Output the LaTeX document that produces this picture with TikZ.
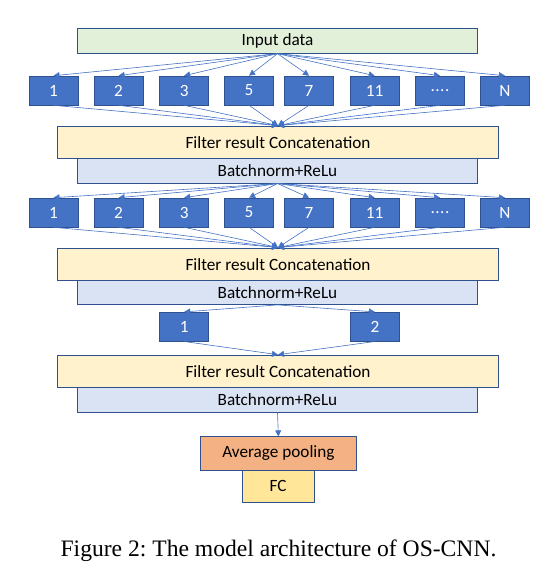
\documentclass[tikz,border=0pt]{standalone}
\usepackage{fontspec}
\setmainfont{Carlito}
\newfontfamily\capfont{Liberation Serif}
\usepackage{xcolor}
\usepackage{tikz}
\usetikzlibrary{arrows.meta}
\frenchspacing

\definecolor{kernblue}{HTML}{4472C4}
\definecolor{kernedge}{HTML}{2F528F}
\definecolor{inpgreen}{HTML}{E2F0D9}
\definecolor{catyellow}{HTML}{FFF2CC}
\definecolor{bnblue}{HTML}{DAE3F3}
\definecolor{poolorange}{HTML}{F4B183}
\definecolor{fcyellow}{HTML}{FFE699}

\begin{document}
\begin{tikzpicture}
  [
    x=1pt, y=-1pt,
    font=\fontsize{17.2}{20}\selectfont,
    layer/.style={
       draw=kernedge,
       line width=0.8pt,
       inner sep=0pt,
       minimum height=24.5pt
    },
    kern/.style={
       layer,
       fill=kernblue,
       text=white,
       minimum width=49pt,
       minimum height=28.8pt
    },
    concat/.style={
       layer,
       fill=catyellow,
       minimum width=440.3pt,
       minimum height=32.6pt
    },
    bn/.style={
       layer,
       fill=bnblue,
       minimum width=400.7pt
    },
    ld/.style={
       draw=kernblue,
       line width=0.6pt,
       -{Triangle[length=6pt,width=6pt]}
    }
  ]
  \useasboundingbox (0,0) rectangle (550,563);

  % input
  \node (inp) at (277.5, 41.0) [layer, fill=inpgreen, minimum width=400.7pt] {Input data};

  % first block
  \node (a1) at ( 53.5, 90.5) [kern] {1};
  \node (a2) at (118.6, 90.5) [kern] {2};
  \node (a3) at (184.2, 90.5) [kern] {3};
  \node (a4) at (249.1, 90.5) [kern] {5};
  \node (a5) at (309.1, 90.5) [kern] {7};
  \node (a6) at (374.7, 90.5) [kern] {11};
  \node (a7) at (440.0, 90.5) [kern] {.\kern0.5pt.\kern0.5pt.\kern0.5pt.};
  \node (a8) at (504.9, 90.5) [kern] {N};
  \node (cat1) at (278.0,142.3) [concat] {Filter result Concatenation};
  \node (bn1)  at (277.5,170.9) [bn] {Batchnorm+ReLu};

  % second block
  \node (b1) at ( 53.5,212.5) [kern] {1};
  \node (b2) at (118.6,212.5) [kern] {2};
  \node (b3) at (184.2,212.5) [kern] {3};
  \node (b4) at (249.1,212.5) [kern] {5};
  \node (b5) at (309.1,212.5) [kern] {7};
  \node (b6) at (374.7,212.5) [kern] {11};
  \node (b7) at (440.0,212.5) [kern] {.\kern0.5pt.\kern0.5pt.\kern0.5pt.};
  \node (b8) at (504.9,212.5) [kern] {N};
  \node (cat2) at (278.0,264.2) [concat] {Filter result Concatenation};
  \node (bn2)  at (277.5,292.5) [bn, minimum height=24pt] {Batchnorm+ReLu};

  % third block
  \node (c1) at (184.2,326.7) [kern] {1};
  \node (c2) at (374.9,326.7) [kern] {2};
  \node (cat3) at (278.0,371.4) [concat] {Filter result Concatenation};
  \node (bn3)  at (277.5,400.0) [bn, minimum height=24.6pt] {Batchnorm+ReLu};

  % head
  \node (pool) at (278.4,453.5) [layer, fill=poolorange, minimum width=156.8pt, minimum height=33.4pt] {Average pooling};
  \node (fc)   at (278.0,486.4) [layer, fill=fcyellow, minimum width=72pt, minimum height=32.3pt] {FC};

  \draw [ld] (inp.south) -- (a1.north);
  \draw [ld] (inp.south) -- (a2.north);
  \draw [ld] (inp.south) -- (a3.north);
  \draw [ld] (inp.south) -- (a4.north);
  \draw [ld] (inp.south) -- (a5.north);
  \draw [ld] (inp.south) -- (a6.north);
  \draw [ld] (inp.south) -- (a7.north);
  \draw [ld] (inp.south) -- (a8.north);
  \draw [ld] (a1.south) -- (cat1.north);
  \draw [ld] (a2.south) -- (cat1.north);
  \draw [ld] (a3.south) -- (cat1.north);
  \draw [ld] (a4.south) -- (cat1.north);
  \draw [ld] (a5.south) -- (cat1.north);
  \draw [ld] (a6.south) -- (cat1.north);
  \draw [ld] (a7.south) -- (cat1.north);
  \draw [ld] (a8.south) -- (cat1.north);

  \draw [ld] (bn1.south) -- (b1.north);
  \draw [ld] (bn1.south) -- (b2.north);
  \draw [ld] (bn1.south) -- (b3.north);
  \draw [ld] (bn1.south) -- (b4.north);
  \draw [ld] (bn1.south) -- (b5.north);
  \draw [ld] (bn1.south) -- (b6.north);
  \draw [ld] (bn1.south) -- (b7.north);
  \draw [ld] (bn1.south) -- (b8.north);
  \draw [ld] (b1.south) -- (cat2.north);
  \draw [ld] (b2.south) -- (cat2.north);
  \draw [ld] (b3.south) -- (cat2.north);
  \draw [ld] (b4.south) -- (cat2.north);
  \draw [ld] (b5.south) -- (cat2.north);
  \draw [ld] (b6.south) -- (cat2.north);
  \draw [ld] (b7.south) -- (cat2.north);
  \draw [ld] (b8.south) -- (cat2.north);

  \draw [ld] (bn2.south) -- (c1.north);
  \draw [ld] (bn2.south) -- (c2.north);
  \draw [ld] (c1.south) -- (cat3.north);
  \draw [ld] (c2.south) -- (cat3.north);

  \draw [ld] (bn3.south) -- (pool.north);

  \node (caption) at (278.5,556) [anchor=base, font=\capfont\fontsize{23.6}{28}\selectfont]
     {Figure 2: The model architecture of OS-CNN.};
\end{tikzpicture}
\end{document}
